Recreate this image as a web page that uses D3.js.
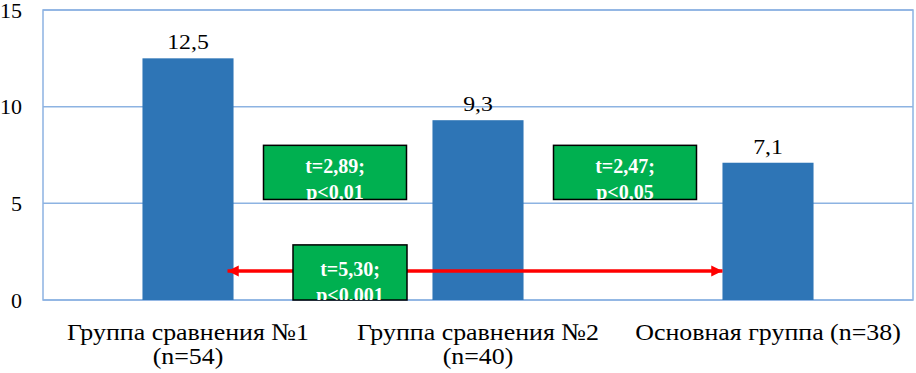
<!DOCTYPE html>
<html>
<head>
<meta charset="utf-8">
<script src="https://cdn.jsdelivr.net/npm/d3@7"></script>
</head>
<body style="margin:0;background:#fff">
<svg id="chart" width="916" height="373" style="display:block"></svg>
<script>
const categories = ['Группа сравнения №1|(n=54)', 'Группа сравнения №2|(n=40)', 'Основная группа (n=38)'];
const values = [12.5, 9.3, 7.1];
const valueLabels = ['12,5', '9,3', '7,1'];
const yTicks = [0, 5, 10, 15];
const testLines = [['t=2,89;', 'p<0,01'], ['t=2,47;', 'p<0,05'], ['t=5,30;', 'p<0,001']];

const FONT = 'Liberation Serif';
const width = 916, height = 373;
const margin = { top: 10, right: 3, bottom: 73, left: 43 };
const innerW = width - margin.left - margin.right;
const innerH = height - margin.top - margin.bottom;

const svg = d3.select('#chart');
const serif = (sel, size, weight) => sel
  .attr('font-family', FONT).style('font-family', `'${FONT}'`)
  .attr('font-size', size).style('font-weight', weight || 'normal');

const g = svg.append('g').attr('transform', `translate(${margin.left},${margin.top})`);

const x = d3.scaleBand().domain(categories).range([0, innerW]).padding(0);
const y = d3.scaleLinear().domain([0, 15]).range([innerH, 0]);
const barW = x.bandwidth() * 0.314;
const barX = c => x(c) + (x.bandwidth() - barW) / 2;
const mid = c => x(c) + x.bandwidth() / 2;

// grid + frame
g.selectAll('line.grid').data(yTicks).join('line')
  .attr('class', 'grid')
  .attr('x1', 0).attr('x2', innerW)
  .attr('y1', d => y(d)).attr('y2', d => y(d))
  .attr('stroke', '#8db3e2').attr('stroke-width', 1.5);
g.append('rect')
  .attr('x', 0).attr('y', 0).attr('width', innerW).attr('height', innerH)
  .attr('fill', 'none').attr('stroke', '#8db3e2').attr('stroke-width', 1.5);

// y axis labels
const yAxis = g.append('g').call(d3.axisLeft(y).tickValues(yTicks).tickSize(0).tickPadding(21));
yAxis.attr('font-family', FONT).attr('font-size', 22);
yAxis.select('.domain').remove();
yAxis.selectAll('text').call(serif, 22).attr('fill', '#000');

// bars
g.selectAll('rect.bar').data(values).join('rect')
  .attr('class', 'bar')
  .attr('x', (d, i) => barX(categories[i]))
  .attr('y', d => y(d))
  .attr('width', barW)
  .attr('height', d => innerH - y(d))
  .attr('fill', '#2e75b6');

g.selectAll('text.val').data(values).join('text')
  .attr('class', 'val')
  .attr('transform', (d, i) => `translate(${mid(categories[i])},${y(d) - 9}) scale(1.08,1)`)
  .attr('text-anchor', 'middle')
  .call(serif, 22).attr('fill', '#000')
  .text((d, i) => valueLabels[i]);

// category labels
g.selectAll('text.cat').data(categories).join('text')
  .attr('class', 'cat')
  .attr('transform', d => `translate(${mid(d)},${innerH + 40}) scale(1.08,1)`)
  .attr('text-anchor', 'middle')
  .call(serif, 24).attr('fill', '#000')
  .each(function(d) {
    const parts = d.split('|');
    d3.select(this).selectAll('tspan').data(parts).join('tspan')
      .attr('x', 0)
      .attr('y', (p, i) => i * 24)
      .text(p => p);
  });

// arrow between group 1 and main group
const defs = svg.append('defs');
defs.append('marker')
  .attr('id', 'arrHead')
  .attr('viewBox', '0 0 10 10').attr('refX', 10).attr('refY', 5)
  .attr('markerWidth', 4).attr('markerHeight', 3.2)
  .attr('markerUnits', 'strokeWidth')
  .attr('orient', 'auto')
  .append('path').attr('d', 'M0,0L10,5L0,10z').attr('fill', '#ff0000');
const arrowY = y(1.5);
const ax1 = barX(categories[0]) + barW - 6;
const ax2 = barX(categories[2]);
const axMid = (ax1 + ax2) / 2;
[ax1, ax2].forEach(end => {
  g.append('line')
    .attr('x1', axMid).attr('x2', end)
    .attr('y1', arrowY).attr('y2', arrowY)
    .attr('stroke', '#ff0000').attr('stroke-width', 3.5)
    .attr('marker-end', 'url(#arrHead)');
});

// test boxes
const gapMid = i => (barX(categories[i]) + barW + barX(categories[i + 1])) / 2;
const boxes = [
  { cx: gapMid(0) + 2, w: 143, top: 8.0, bot: 5.2, lines: testLines[0], y0: 28 },
  { cx: gapMid(1) + 2, w: 143, top: 8.0, bot: 5.2, lines: testLines[1], y0: 28 },
  { cx: gapMid(0) + 17, w: 114, top: 2.85, bot: 0, lines: testLines[2], y0: 31 }
];
boxes.forEach((b, i) => {
  const bx = b.cx - b.w / 2, by = y(b.top), bh = y(b.bot) - y(b.top);
  defs.append('clipPath').attr('id', 'clip' + i)
    .append('rect').attr('x', bx).attr('y', by).attr('width', b.w).attr('height', bh);
  const bg = g.append('g');
  bg.append('rect')
    .attr('x', bx).attr('y', by).attr('width', b.w).attr('height', bh)
    .attr('fill', '#00b050').attr('stroke', '#000').attr('stroke-width', 1.5);
  bg.append('text')
    .attr('clip-path', `url(#clip${i})`)
    .attr('text-anchor', 'middle')
    .call(serif, 20, 'bold')
    .attr('fill', '#fff')
    .selectAll('tspan').data(b.lines).join('tspan')
    .attr('x', b.cx)
    .attr('y', (l, j) => by + b.y0 + j * 26)
    .text(l => l);
});
</script>
</body>
</html>
